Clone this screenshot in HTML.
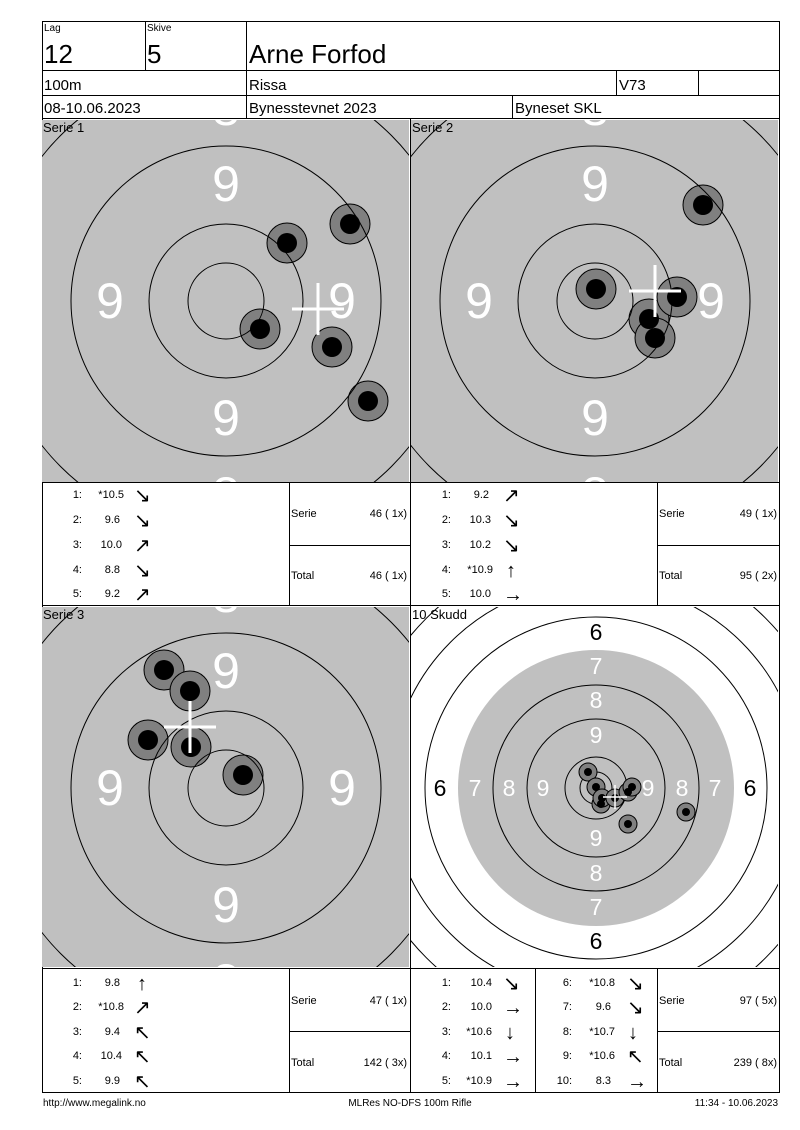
<!DOCTYPE html>
<html><head><meta charset="utf-8"><style>
html,body{margin:0;padding:0;background:#fff;width:800px;height:1130px;overflow:hidden}
svg{display:block}
text{font-family:"Liberation Sans",Arial,sans-serif}
</style></head><body>
<svg width="800" height="1130" viewBox="0 0 800 1130" xmlns="http://www.w3.org/2000/svg">
<defs>
<clipPath id="c1"><rect x="42" y="120" width="367" height="362"/></clipPath>
<clipPath id="c2"><rect x="411" y="120" width="367" height="362"/></clipPath>
<clipPath id="c3"><rect x="42" y="607" width="367" height="360"/></clipPath>
<clipPath id="c4"><rect x="411" y="607" width="367" height="360"/></clipPath>
</defs>

<g fill="none" stroke="#000" stroke-width="1">
<rect x="42.5" y="21.5" width="737" height="1071"/>
<line x1="42" y1="70.5" x2="779" y2="70.5"/>
<line x1="42" y1="95.5" x2="779" y2="95.5"/>
<line x1="42" y1="118.5" x2="779" y2="118.5"/>
<line x1="145.5" y1="21" x2="145.5" y2="70"/>
<line x1="246.5" y1="21" x2="246.5" y2="118"/>
<line x1="616.5" y1="70" x2="616.5" y2="95"/>
<line x1="698.5" y1="70" x2="698.5" y2="95"/>
<line x1="512.5" y1="95" x2="512.5" y2="118"/>
</g>
<text x="44" y="31" font-size="10">Lag</text>
<text x="147" y="31" font-size="10">Skive</text>
<text x="44" y="63" font-size="26">12</text>
<text x="147" y="63" font-size="26">5</text>
<text x="249" y="63" font-size="26">Arne Forfod</text>
<text x="44" y="90" font-size="15">100m</text>
<text x="249" y="90" font-size="15">Rissa</text>
<text x="619" y="90" font-size="15">V73</text>
<text x="44" y="113" font-size="15">08-10.06.2023</text>
<text x="249" y="113" font-size="15">Bynesstevnet 2023</text>
<text x="515" y="113" font-size="15">Byneset SKL</text>

<g clip-path="url(#c1)">
<rect x="42" y="120" width="367" height="362" fill="#c0c0c0"/>
<g fill="#fff" font-size="50" text-anchor="middle">
<text x="226" y="201">9</text><text x="226" y="435">9</text><text x="110" y="318">9</text><text x="342" y="318">9</text>
<text x="226" y="125">8</text><text x="226" y="512">8</text>
</g>
<g fill="#808080" stroke="#000"><circle cx="350" cy="224" r="20"/><circle cx="287" cy="243" r="20"/><circle cx="260" cy="329" r="20"/><circle cx="332" cy="347" r="20"/><circle cx="368" cy="401" r="20"/></g>
<g fill="#000"><circle cx="350" cy="224" r="10"/><circle cx="287" cy="243" r="10"/><circle cx="260" cy="329" r="10"/><circle cx="332" cy="347" r="10"/><circle cx="368" cy="401" r="10"/></g>
<g fill="none" stroke="#000"><circle cx="226" cy="301" r="38"/><circle cx="226" cy="301" r="77"/><circle cx="226" cy="301" r="155"/><circle cx="226" cy="301" r="234"/></g>
<g stroke="#fff" stroke-width="3"><line x1="292" y1="309" x2="344" y2="309"/><line x1="318" y1="283" x2="318" y2="335"/></g>
</g>
<text x="43" y="132" font-size="13">Serie 1</text>

<g clip-path="url(#c2)">
<rect x="411" y="120" width="367" height="362" fill="#c0c0c0"/>
<g fill="#fff" font-size="50" text-anchor="middle">
<text x="595" y="201">9</text><text x="595" y="435">9</text><text x="479" y="318">9</text><text x="711" y="318">9</text>
<text x="595" y="125">8</text><text x="595" y="512">8</text>
</g>
<g fill="#808080" stroke="#000"><circle cx="703" cy="205" r="20"/><circle cx="596" cy="289" r="20"/><circle cx="649" cy="319" r="20"/><circle cx="677" cy="297" r="20"/><circle cx="655" cy="338" r="20"/></g>
<g fill="#000"><circle cx="703" cy="205" r="10"/><circle cx="596" cy="289" r="10"/><circle cx="649" cy="319" r="10"/><circle cx="677" cy="297" r="10"/><circle cx="655" cy="338" r="10"/></g>
<g fill="none" stroke="#000"><circle cx="595" cy="301" r="38"/><circle cx="595" cy="301" r="77"/><circle cx="595" cy="301" r="155"/><circle cx="595" cy="301" r="234"/></g>
<g stroke="#fff" stroke-width="3"><line x1="629" y1="291" x2="681" y2="291"/><line x1="655" y1="265" x2="655" y2="317"/></g>
</g>
<text x="412" y="132" font-size="13">Serie 2</text>

<g clip-path="url(#c3)">
<rect x="42" y="607" width="367" height="360" fill="#c0c0c0"/>
<g fill="#fff" font-size="50" text-anchor="middle">
<text x="226" y="688">9</text><text x="226" y="922">9</text><text x="110" y="805">9</text><text x="342" y="805">9</text>
<text x="226" y="612">8</text><text x="226" y="999">8</text>
</g>
<g fill="#808080" stroke="#000"><circle cx="164" cy="670" r="20"/><circle cx="190" cy="691" r="20"/><circle cx="148" cy="740" r="20"/><circle cx="191" cy="747" r="20"/><circle cx="243" cy="775" r="20"/></g>
<g fill="#000"><circle cx="164" cy="670" r="10"/><circle cx="190" cy="691" r="10"/><circle cx="148" cy="740" r="10"/><circle cx="191" cy="747" r="10"/><circle cx="243" cy="775" r="10"/></g>
<g fill="none" stroke="#000"><circle cx="226" cy="788" r="38"/><circle cx="226" cy="788" r="77"/><circle cx="226" cy="788" r="155"/><circle cx="226" cy="788" r="234"/></g>
<g stroke="#fff" stroke-width="3"><line x1="164" y1="727" x2="216" y2="727"/><line x1="190" y1="701" x2="190" y2="753"/></g>
</g>
<text x="43" y="619" font-size="13">Serie 3</text>

<g clip-path="url(#c4)">
<rect x="411" y="607" width="367" height="360" fill="#fff"/>
<circle cx="596" cy="788" r="138" fill="#c0c0c0"/>
<g fill="none" stroke="#000"><circle cx="596" cy="788" r="16"/><circle cx="596" cy="788" r="31"/><circle cx="596" cy="788" r="69"/><circle cx="596" cy="788" r="103"/><circle cx="596" cy="788" r="171"/><circle cx="596" cy="788" r="206"/><circle cx="596" cy="788" r="240"/><circle cx="596" cy="788" r="274"/></g>
<g font-size="23" text-anchor="middle">
<g fill="#000"><text x="596" y="640">6</text><text x="596" y="949">6</text><text x="440" y="796">6</text><text x="750" y="796">6</text></g>
<g fill="#fff"><text x="596" y="674">7</text><text x="596" y="915">7</text><text x="475" y="796">7</text><text x="715" y="796">7</text>
<text x="596" y="708">8</text><text x="596" y="881">8</text><text x="509" y="796">8</text><text x="682" y="796">8</text>
<text x="596" y="743">9</text><text x="596" y="846">9</text><text x="543" y="796">9</text><text x="648" y="796">9</text></g>
</g>
<g fill="#808080" stroke="#000"><circle cx="588" cy="772" r="9"/><circle cx="596" cy="787" r="9"/><circle cx="601" cy="804" r="9"/><circle cx="602" cy="798" r="9"/><circle cx="615" cy="798" r="9"/><circle cx="628" cy="792" r="9"/><circle cx="632" cy="787" r="9"/><circle cx="628" cy="824" r="9"/><circle cx="686" cy="812" r="9"/></g>
<g fill="#000"><circle cx="588" cy="772" r="4"/><circle cx="596" cy="787" r="4"/><circle cx="601" cy="804" r="4"/><circle cx="602" cy="798" r="4"/><circle cx="615" cy="798" r="4"/><circle cx="628" cy="792" r="4"/><circle cx="632" cy="787" r="4"/><circle cx="628" cy="824" r="4"/><circle cx="686" cy="812" r="4"/></g>
<g stroke="#fff" stroke-width="1.5"><line x1="603" y1="797" x2="627" y2="797"/><line x1="615" y1="785" x2="615" y2="809"/></g>
</g>
<text x="412" y="619" font-size="13">10 Skudd</text>

<g fill="none" stroke="#000">
<line x1="410.5" y1="118" x2="410.5" y2="1092"/>
<line x1="42" y1="482.5" x2="779" y2="482.5"/>
<line x1="42" y1="605.5" x2="779" y2="605.5"/>
<line x1="42" y1="968.5" x2="779" y2="968.5"/>
<line x1="289.5" y1="482" x2="289.5" y2="605"/>
<line x1="657.5" y1="482" x2="657.5" y2="605"/>
<line x1="289" y1="545.5" x2="410" y2="545.5"/>
<line x1="657" y1="545.5" x2="779" y2="545.5"/>
<line x1="289.5" y1="968" x2="289.5" y2="1092"/>
<line x1="535.5" y1="968" x2="535.5" y2="1092"/>
<line x1="657.5" y1="968" x2="657.5" y2="1092"/>
<line x1="289" y1="1031.5" x2="410" y2="1031.5"/>
<line x1="657" y1="1031.5" x2="779" y2="1031.5"/>
</g>

<g font-size="11">
<g text-anchor="end">
<text x="82" y="498">1:</text><text x="124" y="498">*10.5</text>
<text x="82" y="523">2:</text><text x="120" y="523">9.6</text>
<text x="82" y="548">3:</text><text x="122" y="548">10.0</text>
<text x="82" y="573">4:</text><text x="120" y="573">8.8</text>
<text x="82" y="597">5:</text><text x="120" y="597">9.2</text>
</g>
<g font-size="20"><text x="134" y="502">↘</text><text x="134" y="527">↘</text><text x="134" y="552">↗</text><text x="134" y="577">↘</text><text x="134" y="601">↗</text></g>
<text x="291" y="517">Serie</text><text x="407" y="517" text-anchor="end">46 ( 1x)</text>
<text x="291" y="579">Total</text><text x="407" y="579" text-anchor="end">46 ( 1x)</text>
<g text-anchor="end">
<text x="451" y="498">1:</text><text x="489" y="498">9.2</text>
<text x="451" y="523">2:</text><text x="491" y="523">10.3</text>
<text x="451" y="548">3:</text><text x="491" y="548">10.2</text>
<text x="451" y="573">4:</text><text x="493" y="573">*10.9</text>
<text x="451" y="597">5:</text><text x="491" y="597">10.0</text>
</g>
<g font-size="20"><text x="503" y="502">↗</text><text x="503" y="527">↘</text><text x="503" y="552">↘</text><text x="506" y="577">↑</text><text x="503" y="601">→</text></g>
<text x="659" y="517">Serie</text><text x="777" y="517" text-anchor="end">49 ( 1x)</text>
<text x="659" y="579">Total</text><text x="777" y="579" text-anchor="end">95 ( 2x)</text>
<g text-anchor="end">
<text x="82" y="986">1:</text><text x="120" y="986">9.8</text>
<text x="82" y="1010">2:</text><text x="124" y="1010">*10.8</text>
<text x="82" y="1035">3:</text><text x="120" y="1035">9.4</text>
<text x="82" y="1059">4:</text><text x="122" y="1059">10.4</text>
<text x="82" y="1084">5:</text><text x="120" y="1084">9.9</text>
</g>
<g font-size="20"><text x="137" y="990">↑</text><text x="134" y="1014">↗</text><text x="134" y="1039">↖</text><text x="134" y="1063">↖</text><text x="134" y="1088">↖</text></g>
<text x="291" y="1004">Serie</text><text x="407" y="1004" text-anchor="end">47 ( 1x)</text>
<text x="291" y="1066">Total</text><text x="407" y="1066" text-anchor="end">142 ( 3x)</text>
<g text-anchor="end">
<text x="451" y="986">1:</text><text x="492" y="986">10.4</text>
<text x="451" y="1010">2:</text><text x="492" y="1010">10.0</text>
<text x="451" y="1035">3:</text><text x="492" y="1035">*10.6</text>
<text x="451" y="1059">4:</text><text x="492" y="1059">10.1</text>
<text x="451" y="1084">5:</text><text x="492" y="1084">*10.9</text>
<text x="572" y="986">6:</text><text x="615" y="986">*10.8</text>
<text x="572" y="1010">7:</text><text x="611" y="1010">9.6</text>
<text x="572" y="1035">8:</text><text x="615" y="1035">*10.7</text>
<text x="572" y="1059">9:</text><text x="615" y="1059">*10.6</text>
<text x="572" y="1084">10:</text><text x="611" y="1084">8.3</text>
</g>
<g font-size="20"><text x="503" y="990">↘</text><text x="503" y="1014">→</text><text x="505" y="1039">↓</text><text x="503" y="1063">→</text><text x="503" y="1088">→</text>
<text x="627" y="990">↘</text><text x="627" y="1014">↘</text><text x="628" y="1039">↓</text><text x="627" y="1063">↖</text><text x="627" y="1088">→</text></g>
<text x="659" y="1004">Serie</text><text x="777" y="1004" text-anchor="end">97 ( 5x)</text>
<text x="659" y="1066">Total</text><text x="777" y="1066" text-anchor="end">239 ( 8x)</text>
</g>

<g font-size="10">
<text x="43" y="1106">http://www.megalink.no</text>
<text x="410" y="1106" text-anchor="middle">MLRes NO-DFS 100m Rifle</text>
<text x="778" y="1106" text-anchor="end">11:34 - 10.06.2023</text>
</g>
</svg>
</body></html>
